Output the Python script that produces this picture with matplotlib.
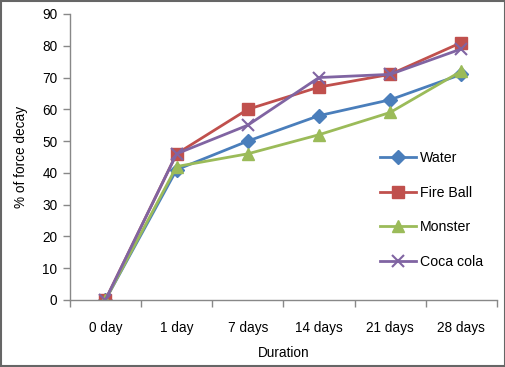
import matplotlib.pyplot as plt
from matplotlib.patches import Rectangle

days = ['0 day', '1 day', '7 days', '14 days', '21 days', '28 days']
water = [0, 41, 50, 58, 63, 71]
fire_ball = [0, 46, 60, 67, 71, 81]
monster = [0, 42, 46, 52, 59, 72]
coca_cola = [0, 46, 55, 70, 71, 79]

plt.rcParams['font.family'] = ['Liberation Sans', 'DejaVu Sans']
plt.rcParams['font.size'] = 9.8

fig = plt.figure(figsize=(5.06, 3.67), dpi=100)
ax = fig.add_axes([0.138, 0.1826, 0.844, 0.7793])

x = list(range(len(days)))
ax.plot(x, water, color='#4A7EBB', marker='D', markersize=7, lw=2, label='Water')
ax.plot(x, fire_ball, color='#C0504D', marker='s', markersize=9, lw=2, label='Fire Ball')
ax.plot(x, monster, color='#9BBB59', marker='^', markersize=9, lw=2, label='Monster')
ax.plot(x, coca_cola, color='#8064A2', marker='x', markersize=9, mew=1.5, lw=2, label='Coca cola')

ax.set_xlim(-0.5, len(days) - 0.5)
ax.set_ylim(0, 90)
ax.set_yticks(range(0, 91, 10))
ax.set_xticks([i - 0.5 for i in range(len(days) + 1)])
ax.set_xticklabels([])
ax.set_xticks(x, minor=True)
ax.set_xticklabels(days, minor=True)
ax.tick_params(axis='x', which='minor', length=0, pad=15)
ax.tick_params(axis='both', which='major', length=5, color='#888888', width=1)
ax.tick_params(axis='y', pad=4)

for s in ['top', 'right']:
    ax.spines[s].set_visible(False)
for s in ['left', 'bottom']:
    ax.spines[s].set_color('#888888')
    ax.spines[s].set_linewidth(1)

ax.set_xlabel('Duration', labelpad=8)
ax.set_ylabel('% of force decay', labelpad=10)

ax.legend(loc='center right', bbox_to_anchor=(0.998, 0.315), frameon=False,
          fontsize=10.2, handlelength=2.5, labelspacing=1.45, handletextpad=0.3)

fig.patches.append(Rectangle((0.002, 0.003), 0.996, 0.994, transform=fig.transFigure,
                             fill=False, edgecolor='#666666', lw=1.5))

fig.savefig('out.png', dpi=100)
